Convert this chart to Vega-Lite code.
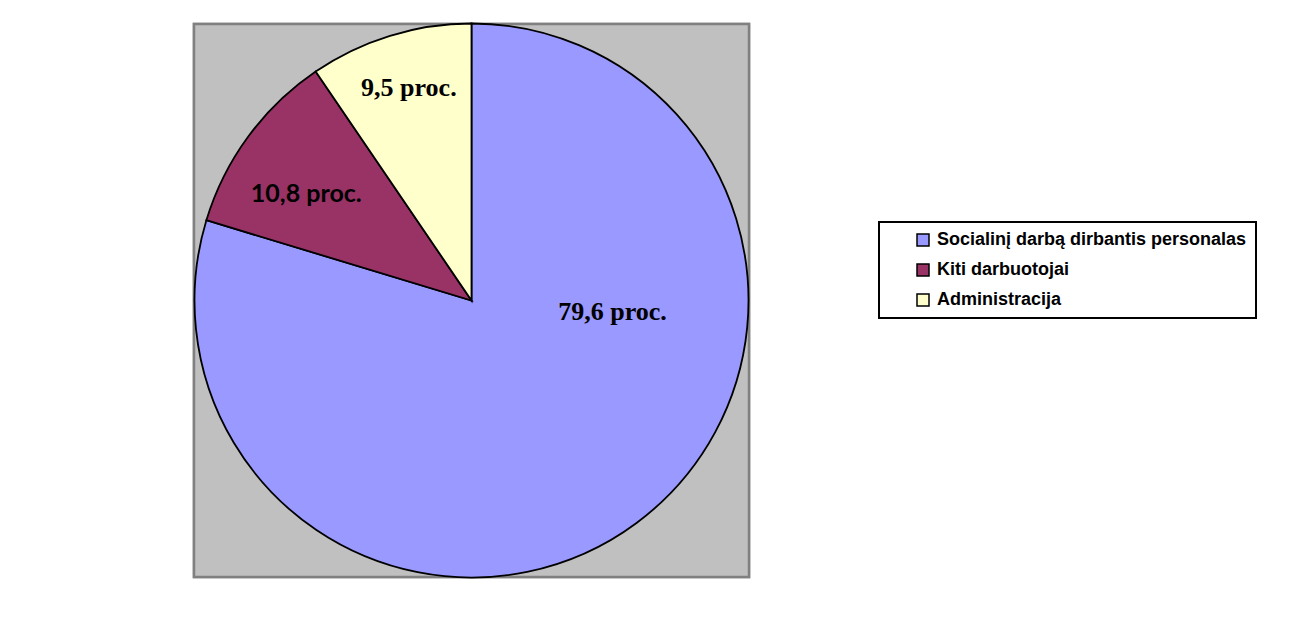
{
  "$schema": "https://vega.github.io/schema/vega-lite/v6.json",
  "width": 555,
  "height": 553,
  "autosize": {"type": "none"},
  "padding": {"left": 194, "top": 24, "right": 564, "bottom": 49},
  "background": "white",
  "view": {"fill": "#C0C0C0", "stroke": "#808080", "strokeWidth": 2.5},
  "data": {
    "values": [
      {"cat": "Socialinį darbą dirbantis personalas", "value": 79.6, "idx": 1, "label": "79,6 proc."},
      {"cat": "Kiti darbuotojai", "value": 10.8, "idx": 2, "label": "10,8 proc."},
      {"cat": "Administracija", "value": 9.5, "idx": 3, "label": "9,5 proc."}
    ]
  },
  "layer": [
    {
      "transform": [{"filter": "datum.idx === 1"}],
      "mark": {"type": "rect", "fill": "#C0C0C0", "stroke": "#808080", "strokeWidth": 2.5},
      "encoding": {}
    },
    {
      "mark": {"type": "arc", "outerRadius": 277, "stroke": "black", "strokeWidth": 1.8},
      "encoding": {
        "theta": {"field": "value", "type": "quantitative", "stack": true},
        "order": {"field": "idx", "type": "quantitative"},
        "color": {
          "field": "cat",
          "type": "nominal",
          "scale": {
            "domain": ["Socialinį darbą dirbantis personalas", "Kiti darbuotojai", "Administracija"],
            "range": ["#9999FF", "#993366", "#FFFFCC"]
          },
          "legend": {
            "orient": "none",
            "legendX": 685,
            "legendY": 198,
            "title": null,
            "strokeColor": "black",
            "fillColor": "white",
            "padding": 9,
            "symbolType": "square",
            "symbolSize": 144,
            "symbolStrokeColor": "black",
            "symbolStrokeWidth": 1.5,
            "symbolOffset": 26,
            "labelOffset": 5,
            "labelFont": "Liberation Sans",
            "labelFontWeight": "bold",
            "labelFontSize": 18,
            "labelColor": "black",
            "labelLimit": 600,
            "rowPadding": 12
          }
        }
      }
    },
    {
      "mark": {"type": "text", "radius": 141.5, "thetaOffset": -0.85, "font": "Liberation Serif", "fontWeight": "bold", "fontSize": 26, "color": "black"},
      "encoding": {
        "theta": {"field": "value", "type": "quantitative", "stack": true},
        "order": {"field": "idx", "type": "quantitative"},
        "detail": {"field": "cat"},
        "text": {"condition": {"test": "datum.idx === 1", "field": "label"}, "value": ""}
      }
    },
    {
      "mark": {"type": "text", "radius": 196.6, "thetaOffset": -0.061, "font": "Lato", "fontWeight": "bold", "fontSize": 25, "color": "black"},
      "encoding": {
        "theta": {"field": "value", "type": "quantitative", "stack": true},
        "order": {"field": "idx", "type": "quantitative"},
        "detail": {"field": "cat"},
        "text": {"condition": {"test": "datum.idx === 2", "field": "label"}, "value": ""}
      }
    },
    {
      "mark": {"type": "text", "radius": 221.5, "thetaOffset": 0.012, "font": "Liberation Serif", "fontWeight": "bold", "fontSize": 26, "color": "black"},
      "encoding": {
        "theta": {"field": "value", "type": "quantitative", "stack": true},
        "order": {"field": "idx", "type": "quantitative"},
        "detail": {"field": "cat"},
        "text": {"condition": {"test": "datum.idx === 3", "field": "label"}, "value": ""}
      }
    }
  ],
  "config": {
    "view": {"fill": "#C0C0C0", "stroke": "#808080", "strokeWidth": 2.5},
    "legend": {"strokeWidth": 2}
  }
}
